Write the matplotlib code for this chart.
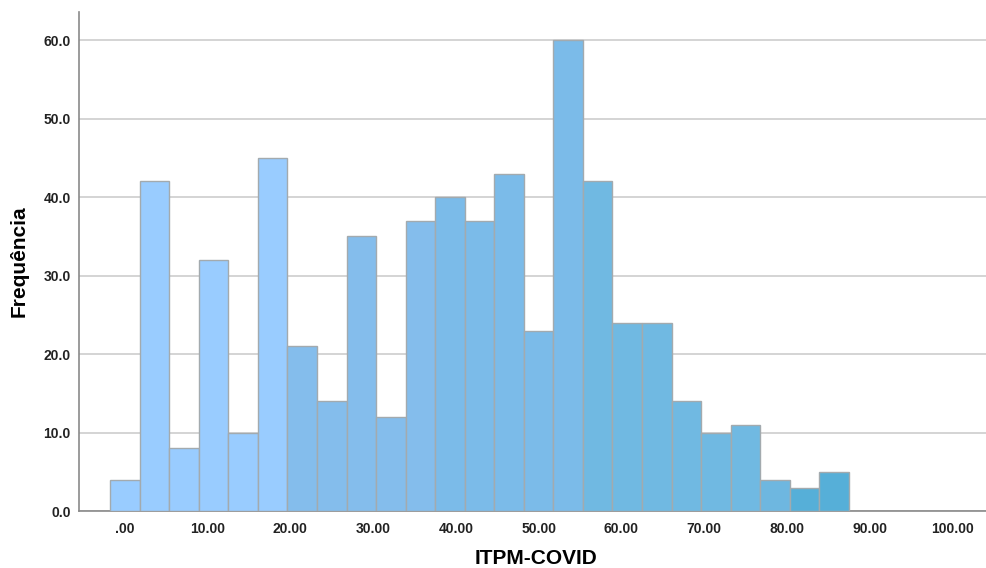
import matplotlib.pyplot as plt

# histogram of ITPM-COVID scores (SPSS style)
bin_width = 100 / 28
counts = [4, 42, 8, 32, 10, 45, 21, 14, 35, 12, 37, 40, 37,
          43, 23, 60, 42, 24, 24, 14, 10, 11, 4, 3, 5]
bar_colors = (['#99ccff'] * 6 + ['#84bdec'] * 5 + ['#7bbbe9'] * 5 +
              ['#70b9e2'] * 6 + ['#6eb7e0'] + ['#56afd8'] * 2)
x_ticks = [0, 10, 20, 30, 40, 50, 60, 70, 80, 90, 100]
x_tick_labels = ['.00', '10.00', '20.00', '30.00', '40.00', '50.00',
                 '60.00', '70.00', '80.00', '90.00', '100.00']
y_ticks = [0, 10, 20, 30, 40, 50, 60]

plt.rcParams['font.family'] = ['Liberation Sans', 'DejaVu Sans']

fig = plt.figure(figsize=(9.87, 5.68), dpi=100)
ax = fig.add_axes([0.080, 0.100, 0.920, 0.879])

centers = [i * bin_width for i in range(len(counts))]
ax.bar(centers, counts, width=bin_width, color=bar_colors,
       edgecolor='#a3aaae', linewidth=1.0, zorder=3)

ax.set_xlim(-5.56, 104.2)
ax.set_ylim(0, 63.6)
ax.set_xticks(x_ticks)
ax.set_xticklabels(x_tick_labels, fontsize=10, fontweight='bold', color='#222222')
ax.set_yticks(y_ticks)
ax.set_yticklabels([f'{v:.1f}' for v in y_ticks], fontsize=10,
                   fontweight='bold', color='#222222')
ax.tick_params(axis='both', length=0)
ax.tick_params(axis='x', pad=8)
ax.tick_params(axis='y', pad=6)

ax.yaxis.grid(True, color='#d4d4d4', linewidth=1.4, zorder=0)
ax.set_axisbelow(True)
for side in ['top', 'right']:
    ax.spines[side].set_visible(False)
for side in ['left', 'bottom']:
    ax.spines[side].set_color('#8a8a8a')
    ax.spines[side].set_linewidth(1.2)

ax.set_xlabel('ITPM-COVID', fontsize=15, fontweight='bold')
ax.xaxis.set_label_coords(0.503, -0.094)
ax.xaxis.label.set_va('center')
ax.set_ylabel('Frequência', fontsize=15, fontweight='bold')
ax.yaxis.set_label_coords(-0.066, 0.5)
ax.yaxis.label.set_va('center')

fig.savefig('out.png', dpi=100)
